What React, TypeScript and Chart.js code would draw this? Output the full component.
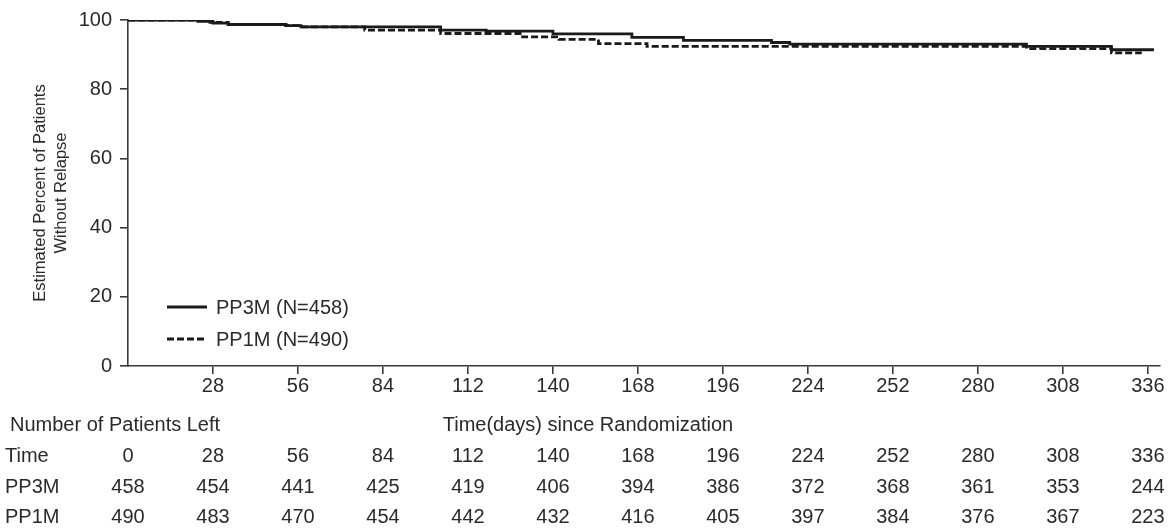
import React, { useEffect, useRef } from 'react';
import { Chart, registerables } from 'chart.js';

Chart.register(...registerables);

// ---- Data ----
const pp3mDays = [0, 23, 28, 33, 52, 57, 103, 118, 140, 166, 183, 212, 218, 296, 324, 338];
const pp3mPct = [100, 99.6, 99.1, 98.7, 98.4, 98.0, 97.1, 96.8, 96.0, 95.0, 94.1, 93.5, 93.0, 92.4, 91.4, 91.4];

const pp1mDays = [0, 22, 27, 33, 52, 57, 78, 103, 130, 142, 155, 171, 296, 324, 334];
const pp1mPct = [100, 99.8, 99.3, 98.7, 98.4, 98.0, 97.1, 96.1, 95.1, 94.4, 93.2, 92.4, 91.7, 90.5, 90.5];

const seriesLabels = ['PP3M (N=458)', 'PP1M (N=490)'];

const xTickValues = [28, 56, 84, 112, 140, 168, 196, 224, 252, 280, 308, 336];
const yTickValues = [0, 20, 40, 60, 80, 100];

const tableTimes = [0, 28, 56, 84, 112, 140, 168, 196, 224, 252, 280, 308, 336];
const pp3mAtRisk = [458, 454, 441, 425, 419, 406, 394, 386, 372, 368, 361, 353, 244];
const pp1mAtRisk = [490, 483, 470, 454, 442, 432, 416, 405, 397, 384, 376, 367, 223];
const tableRowLabels = ['Time', 'PP3M', 'PP1M'];

const yAxisTitle = ['Estimated Percent of Patients', 'Without Relapse'];
const xAxisTitle = 'Time(days) since Randomization';
const tableTitle = 'Number of Patients Left';

// ---- Styles ----
const FAMILY = '"Liberation Sans", Arial, Helvetica, sans-serif';
const FONT_SIZE = 20;
const TITLE_FONT_SIZE = 16.5;
const TEXT_COLOR = '#2a2a2a';
const AXIS_COLOR = '#3a3a3a';
const LINE_COLOR = '#1a1a1a';

const annotationsPlugin = {
  id: 'kmAnnotations',
  afterDraw(chart: any) {
    const ctx = chart.ctx as CanvasRenderingContext2D;
    const xs = chart.scales.x;
    ctx.save();
    ctx.font = `${FONT_SIZE}px ${FAMILY}`;
    ctx.textBaseline = 'middle';

    // legend inside plot
    chart.data.datasets.forEach((ds: any, i: number) => {
      const y = 307 + i * 32;
      ctx.beginPath();
      ctx.setLineDash(ds.borderDash || []);
      ctx.lineWidth = ds.borderWidth;
      ctx.strokeStyle = ds.borderColor;
      ctx.moveTo(167, y);
      ctx.lineTo(207, y);
      ctx.stroke();
      ctx.setLineDash([]);
      ctx.fillStyle = TEXT_COLOR;
      ctx.textAlign = 'left';
      ctx.fillText(ds.label, 216, y + 1);
    });

    // titles under the axis
    ctx.fillStyle = TEXT_COLOR;
    ctx.textAlign = 'left';
    ctx.fillText(tableTitle, 10, 425);
    ctx.textAlign = 'center';
    ctx.fillText(xAxisTitle, 588, 425);

    // number-at-risk table
    const rows = [tableTimes, pp3mAtRisk, pp1mAtRisk];
    const rowY = [456, 487, 517];
    rows.forEach((row, r) => {
      ctx.textAlign = 'left';
      ctx.fillText(tableRowLabels[r], 5, rowY[r]);
      ctx.textAlign = 'center';
      row.forEach((v, j) => {
        const px = xs.getPixelForValue(tableTimes[j]);
        ctx.fillText(String(v), px, rowY[r]);
      });
    });
    ctx.restore();
  },
};

export default function App() {
  const ref = useRef<HTMLCanvasElement>(null);

  useEffect(() => {
    document.body.style.margin = '0';
    const canvas = ref.current;
    if (!canvas) return;
    const chart = new Chart(canvas, {
      type: 'line',
      data: {
        datasets: [
          {
            label: seriesLabels[0],
            data: pp3mDays.map((d, i) => ({ x: d, y: pp3mPct[i] })),
            borderColor: LINE_COLOR,
            borderWidth: 2.8,
            stepped: 'before',
            pointRadius: 0,
            fill: false,
          },
          {
            label: seriesLabels[1],
            data: pp1mDays.map((d, i) => ({ x: d, y: pp1mPct[i] })),
            borderColor: LINE_COLOR,
            borderWidth: 2.8,
            borderDash: [7, 3],
            stepped: 'before',
            pointRadius: 0,
            fill: false,
          },
        ],
      },
      options: {
        animation: false,
        responsive: false,
        maintainAspectRatio: false,
        layout: { padding: { top: 19, right: 15, bottom: 0, left: 0 } },
        plugins: {
          legend: { display: false },
          tooltip: { enabled: false },
          title: { display: false },
        },
        scales: {
          x: {
            type: 'linear',
            min: 0,
            max: 340,
            afterBuildTicks: (s: any) => {
              s.ticks = xTickValues.map((v) => ({ value: v }));
            },
            afterFit: (s: any) => {
              s.height = 165;
            },
            grid: {
              display: true,
              drawOnChartArea: false,
              drawTicks: true,
              tickLength: 8,
              color: AXIS_COLOR,
              lineWidth: 1.6,
            },
            border: { display: true, color: AXIS_COLOR, width: 1.6 },
            ticks: {
              color: TEXT_COLOR,
              font: { family: FAMILY, size: FONT_SIZE },
              padding: 0,
              maxRotation: 0,
              autoSkip: false,
            },
          },
          y: {
            type: 'linear',
            min: 0,
            max: 100,
            afterBuildTicks: (s: any) => {
              s.ticks = yTickValues.map((v) => ({ value: v }));
            },
            afterFit: (s: any) => {
              s.width = 128;
            },
            grid: {
              display: true,
              drawOnChartArea: false,
              drawTicks: true,
              tickLength: 8,
              color: AXIS_COLOR,
              lineWidth: 1.6,
            },
            border: { display: true, color: AXIS_COLOR, width: 1.6 },
            ticks: {
              color: TEXT_COLOR,
              font: { family: FAMILY, size: FONT_SIZE },
              padding: 8,
            },
            title: {
              display: true,
              text: yAxisTitle,
              color: TEXT_COLOR,
              font: { family: FAMILY, size: TITLE_FONT_SIZE, lineHeight: 1.33 },
              padding: { top: 29, bottom: 0 },
            },
          },
        },
      },
      plugins: [annotationsPlugin],
    });
    return () => chart.destroy();
  }, []);

  return (
    <div style={{ position: 'absolute', left: 0, top: 0, width: 1175, height: 531, background: '#fff' }}>
      <canvas ref={ref} width={1175} height={531} style={{ width: 1175, height: 531, display: 'block' }} />
    </div>
  );
}
